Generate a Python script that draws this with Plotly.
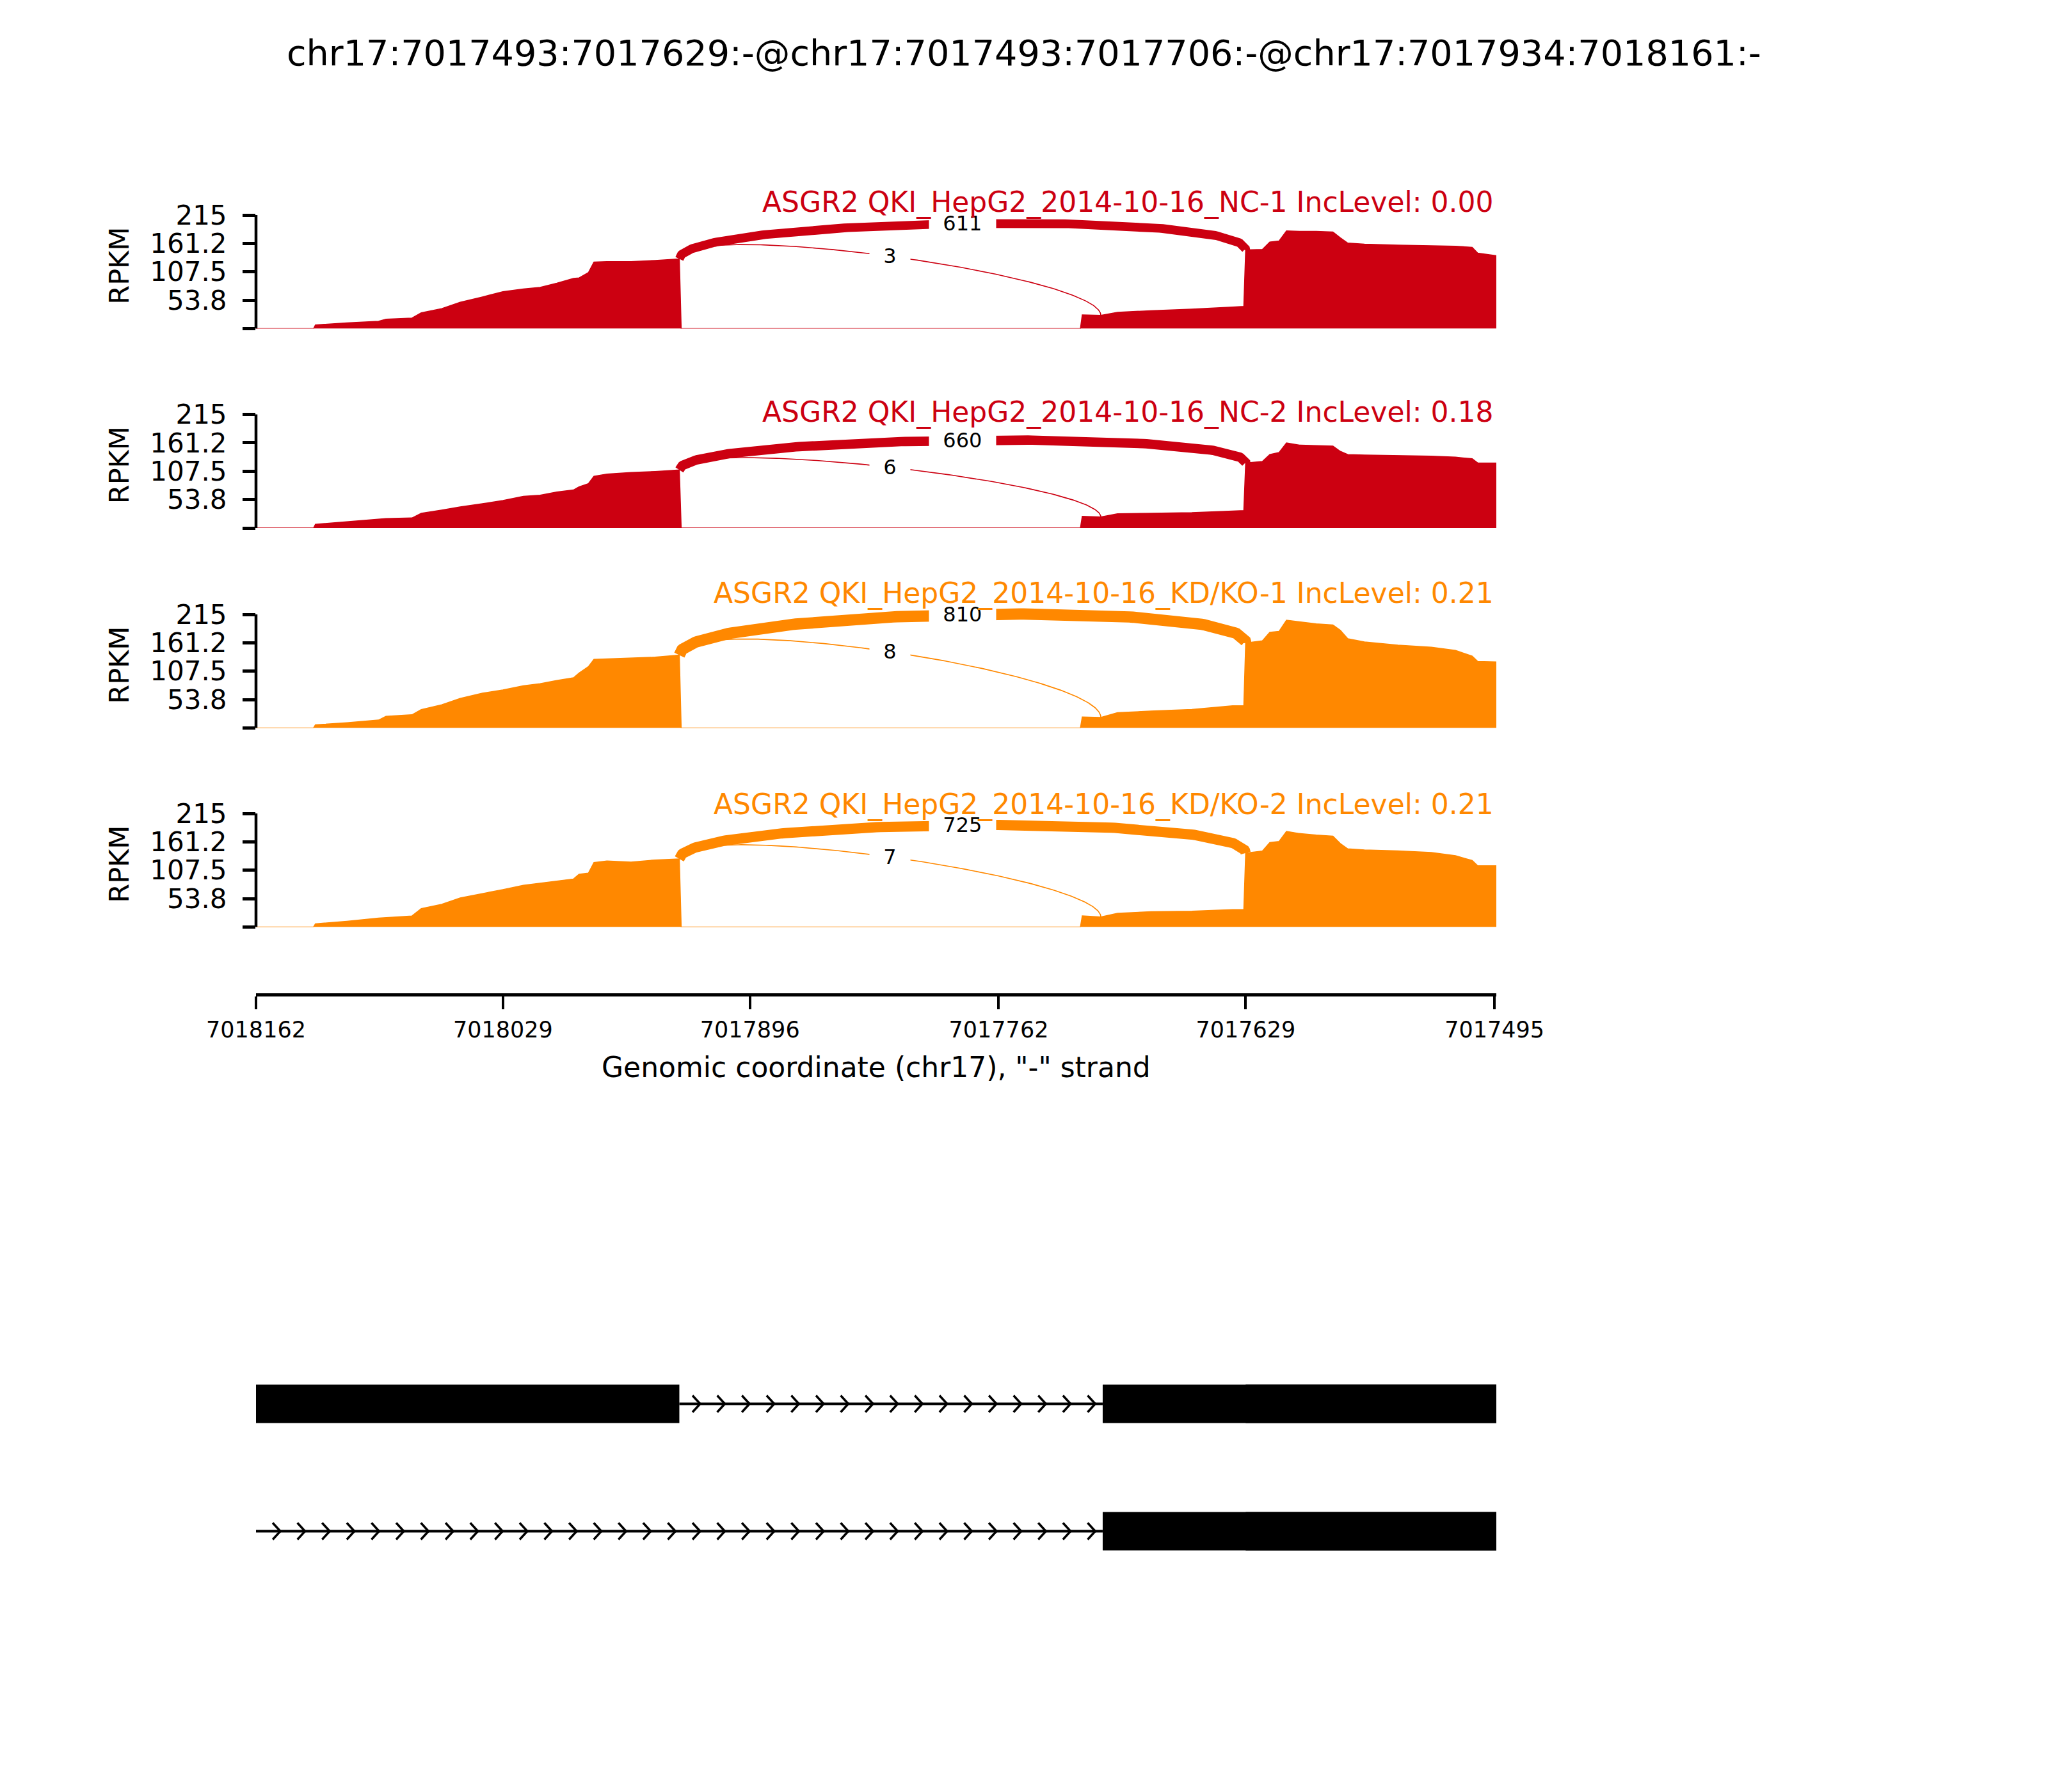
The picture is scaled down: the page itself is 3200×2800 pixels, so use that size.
import numpy as np
import plotly.graph_objects as go

W, H = 3200, 2800
FONT = "DejaVu Sans"

# ---------------- data ----------------
title_text = "chr17:7017493:7017629:-@chr17:7017493:7017706:-@chr17:7017934:7018161:-"
sample_names = ["ASGR2 QKI_HepG2_2014-10-16_NC-1", "ASGR2 QKI_HepG2_2014-10-16_NC-2",
                "ASGR2 QKI_HepG2_2014-10-16_KD/KO-1", "ASGR2 QKI_HepG2_2014-10-16_KD/KO-2"]
inc_levels = ["0.00", "0.18", "0.21", "0.21"]
sample_colors = ["#CC0011", "#CC0011", "#FF8800", "#FF8800"]

cov_pos = [7018162, 7018131, 7018130, 7018113, 7018096, 7018092, 7018078, 7018073, 7018062,
           7018052, 7018040, 7018029, 7018018, 7018009, 7018000, 7017991, 7017988, 7017983,
           7017980, 7017973, 7017960, 7017947, 7017934, 7017933, 7017718, 7017717, 7017707,
           7017698, 7017680, 7017658, 7017636, 7017630, 7017629, 7017620, 7017616, 7017611,
           7017607, 7017600, 7017591, 7017582, 7017578, 7017574, 7017565, 7017547, 7017529,
           7017516, 7017507, 7017504, 7017494]
cov_nc1 = [0, 0, 7, 11, 14, 18, 20, 30, 38, 50, 60, 70, 75, 78, 86, 95, 96, 106, 126, 127, 127, 129, 132,
           0, 0, 26, 25, 31, 34, 37, 41, 42, 149, 150, 164, 166, 185, 184, 184, 183, 172, 162, 160, 158,
           157, 156, 154, 143, 138]
cov_nc2 = [0, 0, 7, 12, 17, 18, 19, 28, 34, 40, 46, 52, 60, 62, 68, 72, 78, 84, 98, 102, 105, 107, 110,
           0, 0, 22, 21, 27, 28, 29, 32, 33, 123, 126, 139, 143, 161, 157, 156, 155, 145, 139, 138, 137,
           136, 134, 131, 123, 123]
cov_ko1 = [0, 0, 6, 10, 15, 22, 25, 35, 44, 56, 66, 72, 80, 84, 90, 95, 104, 116, 130, 131, 133, 134, 138,
           0, 0, 21, 20, 29, 32, 35, 42, 42, 161, 165, 181, 183, 204, 201, 197, 195, 185, 169, 163, 157,
           153, 147, 136, 126, 125]
cov_ko2 = [0, 0, 6, 11, 17, 18, 21, 35, 43, 55, 63, 71, 79, 83, 87, 91, 100, 102, 122, 125, 123, 127, 129,
           0, 0, 21, 19, 26, 29, 30, 33, 33, 140, 144, 160, 162, 181, 177, 174, 172, 158, 148, 146, 144,
           141, 135, 126, 116, 116]
coverages = [cov_nc1, cov_nc2, cov_ko1, cov_ko2]

jxn_donor = [7017934, 7017934]
jxn_acceptor = [7017629, 7017707]
jxn_counts_nc1 = [611, 3]
jxn_counts_nc2 = [660, 6]
jxn_counts_ko1 = [810, 8]
jxn_counts_ko2 = [725, 7]
jxn_counts = [jxn_counts_nc1, jxn_counts_nc2, jxn_counts_ko1, jxn_counts_ko2]
arc_heights = [78, 66, 87, 78]

y_tickvals = [0, 53.75, 107.5, 161.25, 215]
y_ticktext = ["", "53.8", "107.5", "161.2", "215"]
x_tickvals = [7018162, 7018029, 7017896, 7017762, 7017629, 7017495]
x_ticktext = ["7018162", "7018029", "7017896", "7017762", "7017629", "7017495"]
x_label = 'Genomic coordinate (chr17), "-" strand'

tx1_exons = [(7017934, 7018162), (7017493, 7017706), (7017493, 7017629)]
tx1_introns = [(7017706, 7017934)]
tx2_exons = [(7017493, 7017706), (7017493, 7017629)]
tx2_introns = [(7017706, 7018162)]
transcripts = [(tx1_exons, tx1_introns), (tx2_exons, tx2_introns)]

# ---------------- layout geometry (pixels) ----------------
X_RANGE = [7018162, 7017494]
XL, XR = 400, 2338
panel_bottom_px = [513.5, 825.0, 1137.5, 1448.5]
panel_h_px = 177.5           # height of 0..215
YMAX = 240
ppu = panel_h_px / 215.0
label_center_px = [316, 644, 927, 1257]
OFF = 8  # page offset of the figure inside the browser

def px_x(p):
    return (p - OFF) / W

def px_y(p):
    return 1 - (p - OFF) / H

xdom = [px_x(XL), px_x(XR)]
NB = "\u00a0\u00a0"

fig = go.Figure()
layout = dict(
    width=W, height=H, margin=dict(l=0, r=0, t=0, b=0, pad=0, autoexpand=False),
    paper_bgcolor="white", plot_bgcolor="rgba(0,0,0,0)", showlegend=False,
    font=dict(family=FONT, color="black"),
)
annotations = []
shapes = []

t = np.linspace(0, 1, 200)

for k in range(4):
    ax = "" if k == 0 else str(k + 1)
    xa, ya = "x" + ax, "y" + ax
    color = sample_colors[k]
    b = panel_bottom_px[k]
    top = b - YMAX * ppu
    layout["xaxis" + ax] = dict(domain=xdom, range=X_RANGE, anchor=ya, visible=False,
                                showgrid=False, zeroline=False)
    layout["yaxis" + ax] = dict(domain=[px_y(b), px_y(top)], range=[0, YMAX], anchor=xa,
                                showline=False, showgrid=False, zeroline=False, automargin=False,
                                tickvals=y_tickvals, ticktext=y_ticktext, ticks="outside",
                                ticklen=20, tickwidth=4.5, tickcolor="black",
                                tickfont=dict(size=42, family=FONT, color="black"),
                                ticklabelstandoff=16)
    # spine only from 0 to 215
    shapes.append(dict(type="line", xref=xa + " domain", yref=ya, x0=0, x1=0, y0=0, y1=215,
                       line=dict(color="black", width=4.5)))
    cov = coverages[k]
    fig.add_trace(go.Scatter(x=cov_pos, y=cov, mode="lines", fill="tozeroy", fillcolor=color,
                             line=dict(color=color, width=1.5), xaxis=xa, yaxis=ya,
                             hoverinfo="skip"))
    # junction arcs (cubic bezier)
    pos_inc = np.array(cov_pos[::-1], dtype=float)
    val_inc = np.array(cov[::-1], dtype=float)
    h = arc_heights[k]
    for j in range(len(jxn_donor)):
        x1, x2 = jxn_donor[j], jxn_acceptor[j]
        y1 = float(np.interp(x1, pos_inc, val_inc))
        y2 = float(np.interp(x2, pos_inc, val_inc))
        px = ((1 - t) ** 3) * x1 + 3 * ((1 - t) ** 2) * t * x1 + 3 * (1 - t) * t ** 2 * x2 + t ** 3 * x2
        py = ((1 - t) ** 3) * y1 + 3 * ((1 - t) ** 2) * t * (y1 + h) + 3 * (1 - t) * t ** 2 * (y2 + h) + t ** 3 * y2
        cnt = jxn_counts[k][j]
        fig.add_trace(go.Scatter(x=px, y=py, mode="lines",
                                 line=dict(color=color, width=1.5 + cnt / 50.0),
                                 xaxis=xa, yaxis=ya, hoverinfo="skip"))
        mx = (x1 + x2) / 2.0
        my = (y1 + y2) / 2.0 + 0.75 * h
        annotations.append(dict(x=mx, y=my, xref=xa, yref=ya, text=NB + str(cnt) + NB,
                                showarrow=False, bgcolor="white", borderpad=1,
                                font=dict(size=32, family=FONT, color="black")))
    # sample label
    annotations.append(dict(x=px_x(XR - 2), y=px_y(label_center_px[k]), xref="paper", yref="paper",
                            xanchor="right", yanchor="middle", showarrow=False,
                            text=f"{sample_names[k]} IncLevel: {inc_levels[k]}",
                            font=dict(size=44, family=FONT, color=color)))
    # RPKM label
    annotations.append(dict(x=px_x(186), y=px_y(b - panel_h_px / 2 - 9), xref="paper", yref="paper",
                            xanchor="center", yanchor="middle", showarrow=False, textangle=-90,
                            text="RPKM", font=dict(size=43, family=FONT, color="black")))

# bottom genomic axis on panel 4's x axis
layout["xaxis4"].update(dict(visible=True, anchor="free", position=px_y(1554), showline=True,
                             linewidth=4.5, linecolor="black", ticks="outside", ticklen=20,
                             tickwidth=4, tickcolor="black", tickvals=x_tickvals, automargin=False,
                             ticktext=x_ticktext, tickfont=dict(size=35, family=FONT, color="black"),
                             ticklabelstandoff=2))
annotations.append(dict(x=px_x((XL + XR) / 2), y=px_y(1667), xref="paper", yref="paper",
                        xanchor="center", yanchor="middle", showarrow=False, text=x_label,
                        font=dict(size=44, family=FONT, color="black")))

# gene track
row_px = [2193.5, 2392.5]      # centre rows for transcript 1 and 2
unit_px = row_px[1] - row_px[0]
g_bottom = row_px[1] + 0.5 * unit_px
g_top = row_px[0] - 0.5 * unit_px
layout["xaxis5"] = dict(domain=xdom, range=X_RANGE, anchor="y5", visible=False)
layout["yaxis5"] = dict(domain=[px_y(g_bottom), px_y(g_top)], range=[-0.5, 1.5], anchor="x5",
                        visible=False)
box_half = 30 / unit_px
chev_spacing = 13.3
chev_w = 4.1
chev_h = 13 / unit_px
for i, (exons, introns) in enumerate(transcripts):
    yrow = 1 - i
    for (lo, hi) in introns:
        shapes.append(dict(type="line", xref="x5", yref="y5", x0=hi, x1=lo, y0=yrow, y1=yrow,
                           line=dict(color="black", width=4)))
        cx, cy = [], []
        tip = lo + 4
        while tip + chev_w < hi - 3:
            cx += [tip + chev_w, tip, tip + chev_w, None]
            cy += [yrow + chev_h, yrow, yrow - chev_h, None]
            tip += chev_spacing
        fig.add_trace(go.Scatter(x=cx, y=cy, mode="lines", line=dict(color="black", width=3.5),
                                 xaxis="x5", yaxis="y5", hoverinfo="skip"))
    for (lo, hi) in exons:
        shapes.append(dict(type="rect", xref="x5", yref="y5", x0=lo, x1=hi,
                           y0=yrow - box_half, y1=yrow + box_half,
                           fillcolor="black", line=dict(width=0)))

annotations.append(dict(x=px_x(1600), y=px_y(82), xref="paper", yref="paper", xanchor="center",
                        yanchor="middle", showarrow=False, text=title_text,
                        font=dict(size=55.6, family=FONT, color="black")))

layout["annotations"] = annotations
layout["shapes"] = shapes
fig.update_layout(**layout)
fig.write_html("out.html")
